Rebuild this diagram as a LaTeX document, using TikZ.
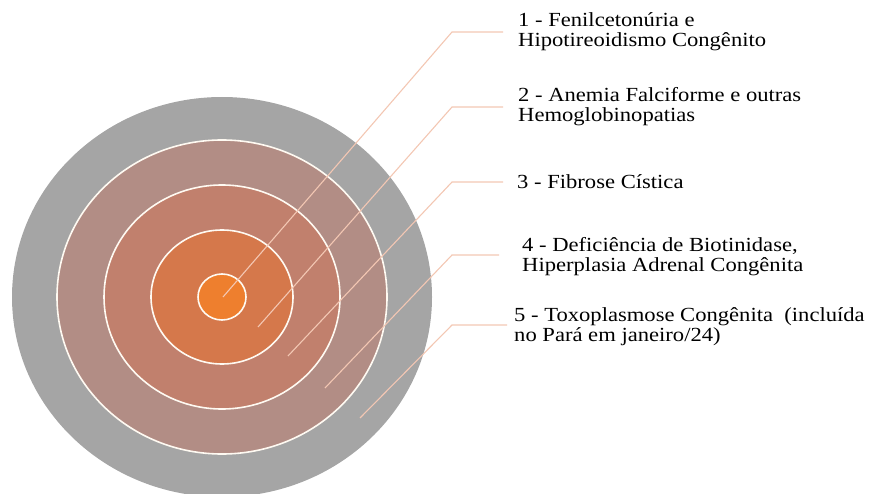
\documentclass[tikz,border=0pt]{standalone}
\usepackage{fontspec}
\setmainfont{Liberation Serif}[FakeStretch=1.13]
\usetikzlibrary{positioning}
\definecolor{ringgray}{HTML}{A5A5A5}
\definecolor{ringtaupe}{HTML}{B28D85}
\definecolor{ringclay}{HTML}{C1806D}
\definecolor{ringrust}{HTML}{D5784B}
\definecolor{ringorange}{HTML}{EE7F2E}
\definecolor{ringline}{HTML}{FFFAF2}
\definecolor{leaderpink}{HTML}{F3C7B3}

\begin{document}
\begin{tikzpicture}[x=1pt,y=-1pt,
  ring/.style={draw=ringline, line width=1.6pt},
  leader/.style={draw=leaderpink, line width=1.1pt},
  disease/.style={anchor=west, align=left, inner xsep=15pt, inner ysep=0pt,
    font=\fontsize{20}{20}\selectfont}]
\useasboundingbox (0,0) rectangle (869,494);

% target rings, outside in
\fill[ringgray] (222,297) ellipse [x radius=210pt, y radius=200pt];
\filldraw[ring, fill=ringtaupe] (222,297) ellipse [x radius=165pt, y radius=157pt];
\filldraw[ring, fill=ringclay] (222,297) ellipse [x radius=118pt, y radius=112pt];
\filldraw[ring, fill=ringrust] (222,297) ellipse [x radius=71pt, y radius=67pt];
\filldraw[ring, fill=ringorange] (222,297) ellipse [x radius=24pt, y radius=23pt];

% labels
\node[disease] (t1) at (503,32) {1 - Fenilcetonúria e\\Hipotireoidismo Congênito};
\node[disease] (t2) at (503,107) {2 - Anemia Falciforme e outras\\Hemoglobinopatias};
\node[disease, inner xsep=14pt] (t3) at (503,182) {3 - Fibrose Cística};
\node[disease, inner xsep=19pt] (t4) at (503,257) {4 - Deficiência de Biotinidase,\\Hiperplasia Adrenal Congênita};
\node[disease, inner xsep=11pt] (t5) at (503,327) {5 - Toxoplasmose Congênita~ (incluída\\no Pará em janeiro/24)};

% leader lines
\coordinate (p1) at (223,297);
\coordinate (p2) at (258,327);
\coordinate (p3) at (288,356);
\coordinate (p4) at (325,388);
\coordinate (p5) at (360,418);
\coordinate (e1) at (452,32);
\coordinate (e2) at (452,107);
\coordinate (e3) at (452,182);
\coordinate (e4) at (452,255);
\coordinate (e5) at (452,325);
\draw[leader] (p1) -- (e1) -- (t1.west |- e1);
\draw[leader] (p2) -- (e2) -- (t2.west |- e2);
\draw[leader] (p3) -- (e3) -- (t3.west |- e3);
\draw[leader] (p4) -- (e4) -- ([xshift=-4pt]t4.west |- e4);
\draw[leader] (p5) -- (e5) -- ([xshift=4pt]t5.west |- e5);
\end{tikzpicture}
\end{document}
